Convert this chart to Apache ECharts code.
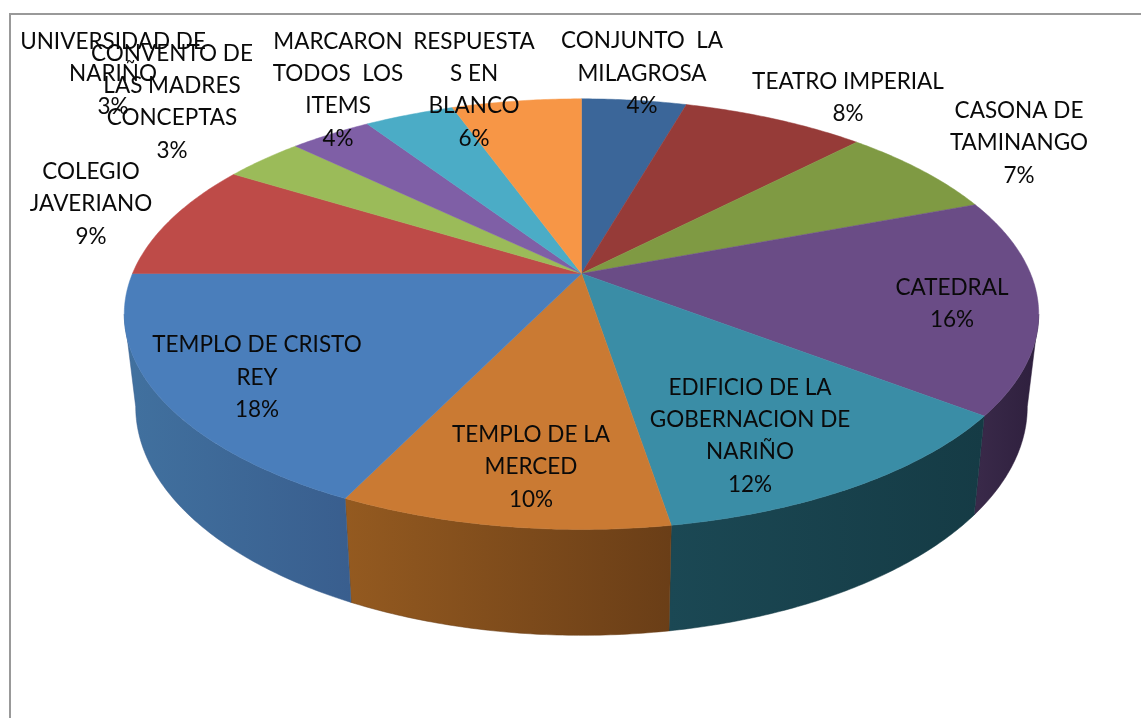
<!DOCTYPE html>
<html>
<head>
<meta charset="utf-8">
<style>html,body{margin:0;padding:0;background:#fff}#chart{width:1141px;height:718px}</style>
<script src="https://cdn.jsdelivr.net/npm/echarts@6/dist/echarts.min.js"></script>
</head>
<body>
<div id="chart"></div>
<script>
// Data
var categories = [
  'CONJUNTO  LA\nMILAGROSA', 'TEATRO IMPERIAL', 'CASONA DE\nTAMINANGO', 'CATEDRAL',
  'EDIFICIO DE LA\nGOBERNACION DE\nNARIÑO', 'TEMPLO DE LA\nMERCED', 'TEMPLO DE CRISTO\nREY',
  'COLEGIO\nJAVERIANO', 'CONVENTO DE\nLAS MADRES\nCONCEPTAS', 'UNIVERSIDAD DE\nNARIÑO',
  'MARCARON\nTODOS  LOS\nITEMS', 'RESPUESTA\nS EN\nBLANCO'
];
var values = [4.45, 7.8, 7.0, 16.15, 12.0, 9.8, 17.8, 8.8, 3.4, 3.49, 3.81, 5.5];

// Styles
var topColors = ['#3B6699', '#963B38', '#7F9A43', '#6A4C86', '#3A8DA6', '#CA7A33',
                 '#4A7EBB', '#BE4B48', '#9BBB59', '#7F5FA6', '#4BACC6', '#F79646'];
var wallLeft  = ['#2C4A70', '#6E2B29', '#5E7232', '#3A2A4A', '#1B4854', '#945A20',
                 '#41719F', '#8C3735', '#728A42', '#5E4679', '#37808F', '#B66F33'];
var wallRight = ['#2C4A70', '#6E2B29', '#5E7232', '#2E1F3D', '#153B45', '#6A3E17',
                 '#395E8E', '#8C3735', '#728A42', '#5E4679', '#37808F', '#B66F33'];

// Layout of the tilted disc and of the hand-placed labels
var disc = { cx: 581.5, cy: 273.5, a: 156, c: 0.1888, rx: 449, shrink: 0.975, d0: 90, dk: 0.062 };
var labelCenters = [[642, 73.5], [848, 98], [1019, 143], [952, 304], [750, 436], [531, 467], [257, 377.5],
                    [91, 204], [172, 102], [113, 74], [338, 90], [474, 90]];

var cum = [0];
values.forEach(function (v, i) { cum.push(cum[i] + v); });
var total = cum[cum.length - 1];

function topPoint(t) {
  var s = Math.sin(t), k = Math.cos(t), w = 1 + disc.c * k;
  return [disc.cx + disc.rx * s / w, (disc.cy - disc.a * k) / w];
}
function lowPoint(t) {
  var p = topPoint(t);
  return [disc.cx + disc.shrink * (p[0] - disc.cx), p[1] + disc.d0 + disc.dk * (p[1] - disc.cy)];
}
function toAngle(x) { return x / total * Math.PI * 2; }

function arcAngles(a0, a1) {
  var n = Math.max(3, Math.ceil((a1 - a0) / 0.01)), out = [];
  for (var i = 0; i <= n; i++) out.push(a0 + (a1 - a0) * i / n);
  return out;
}

// the wall is visible between the two points where the rim is widest
var tangent = Math.PI - Math.acos(disc.c);

function renderSlice(params, api) {
  var i = api.value(0), v = api.value(1);
  var a0 = toAngle(cum[i]), a1 = a0 + toAngle(v);
  var ts = arcAngles(a0, a1);
  var children = [];
  var from = Math.max(a0, tangent), to = Math.min(a1, Math.PI * 2 - tangent);
  if (to > from) {
    var wallTs = arcAngles(from, to);
    var pts = wallTs.map(topPoint).concat(wallTs.slice().reverse().map(lowPoint));
    var grad = new echarts.graphic.LinearGradient(0, 0, 1, 0, [
      { offset: 0, color: wallLeft[i] }, { offset: 1, color: wallRight[i] }
    ]);
    children.push({ type: 'polygon', z2: 1, shape: { points: pts },
      style: { fill: grad, stroke: wallRight[i], lineWidth: 0.5 } });
  }
  var apex = [disc.cx, disc.cy];
  children.push({ type: 'polygon', z2: 10, shape: { points: [apex].concat(ts.map(topPoint)) },
    style: { fill: topColors[i], stroke: topColors[i], lineWidth: 0.5 } });
  var c = labelCenters[i];
  children.push({ type: 'text', z2: 100, style: {
    x: c[0], y: c[1], text: categories[i] + '\n' + Math.round(v) + '%',
    textAlign: 'center', textVerticalAlign: 'middle',
    fontFamily: 'Lato', fontSize: 22.5, lineHeight: 32.4, fill: '#0a0a0a'
  }});
  return { type: 'group', children: children };
}

var chart = echarts.init(document.getElementById('chart'), null, { renderer: 'canvas' });
chart.setOption({
  animation: false,
  backgroundColor: '#fff',
  graphic: [{ type: 'rect', silent: true, z: -1,
    shape: { x: 10, y: 14, width: 1300, height: 900 },
    style: { fill: 'none', stroke: '#999', lineWidth: 2 } }],
  series: [{
    type: 'custom',
    coordinateSystem: 'none',
    renderItem: renderSlice,
    data: values.map(function (v, i) { return [i, v]; }),
    encode: { value: [1] },
    silent: true
  }]
});
</script>
</body>
</html>
